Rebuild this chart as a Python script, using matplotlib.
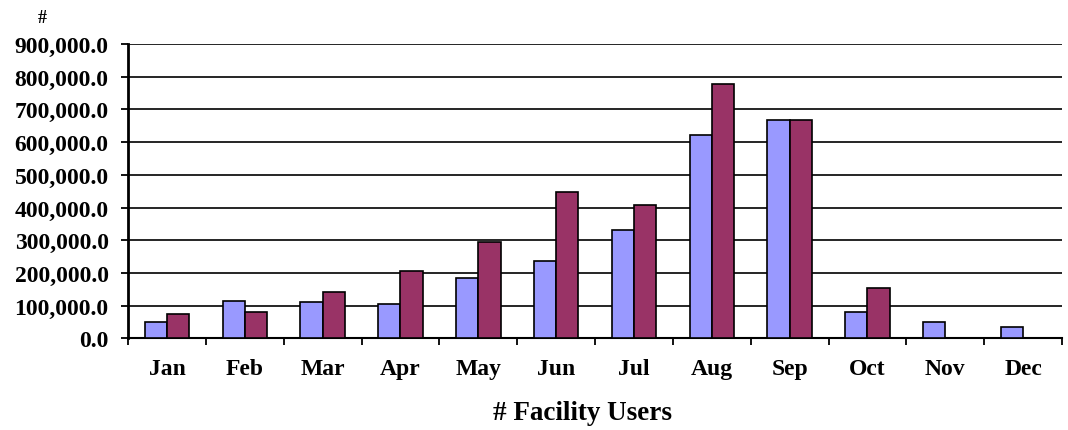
import numpy as np
import matplotlib.pyplot as plt
from matplotlib.ticker import FuncFormatter, FixedLocator

# Monthly facility users, two series
months = ['Jan', 'Feb', 'Mar', 'Apr', 'May', 'Jun', 'Jul', 'Aug', 'Sep', 'Oct', 'Nov', 'Dec']
series_a = [49000, 115000, 110000, 105000, 183000, 237000, 331000, 623000, 667000, 79500, 49000, 35500]
series_b = [74000, 79500, 141000, 207000, 294000, 446000, 409000, 777000, 667000, 153000, 0, 0]

blue = '#9999FF'
maroon = '#993366'
font = 'Liberation Serif'

fig = plt.figure(figsize=(10.68, 4.31), dpi=100)
ax = fig.add_axes([0.1199, 0.2127, 0.8745, 0.6829])

x = np.arange(len(months))
w = 1 / 3.5  # excel gap width 150%
ax.bar(x - w / 2, series_a, w, color=blue, edgecolor='black', linewidth=1.2, zorder=3)
ax.bar(x + w / 2, series_b, w, color=maroon, edgecolor='black', linewidth=1.2, zorder=3)

ax.set_xlim(-0.5, len(months) - 0.5)
ax.set_ylim(0, 900000)
ax.set_yticks(np.arange(0, 900001, 100000))
ax.yaxis.set_major_formatter(FuncFormatter(lambda v, p: f'{v:,.1f}'))
ax.grid(axis='y', color='black', linewidth=1.2, zorder=0)

# ticks between categories, labels at centres
ax.xaxis.set_major_locator(FixedLocator(np.arange(-0.5, len(months), 1.0)))
ax.xaxis.set_major_formatter(FuncFormatter(lambda v, p: ''))
ax.xaxis.set_minor_locator(FixedLocator(x))
ax.set_xticklabels(months, minor=True)
ax.tick_params(axis='x', which='major', direction='out', length=5, width=1.3, color='black')
ax.tick_params(axis='x', which='minor', length=0, pad=14.5)
ax.tick_params(axis='y', direction='out', length=5, width=1.3, pad=9)

for lab in ax.get_xticklabels(minor=True):
    lab.set_fontfamily(font)
    lab.set_fontweight('bold')
    lab.set_fontsize(17)
for lab in ax.get_yticklabels():
    lab.set_fontfamily(font)
    lab.set_fontweight('bold')
    lab.set_fontsize(17)

for s in ['top', 'right']:
    ax.spines[s].set_visible(False)
ax.spines['left'].set_linewidth(2)
ax.spines['bottom'].set_linewidth(1.5)

fig.text(0.545, 0.0255, '# Facility Users', ha='center', va='baseline',
         fontfamily=font, fontweight='bold', fontsize=19.5)
fig.text(0.04, 0.956, '#', ha='center', va='center',
         fontfamily=font, fontweight='bold', fontsize=13)

fig.savefig('out.png', dpi=100)
